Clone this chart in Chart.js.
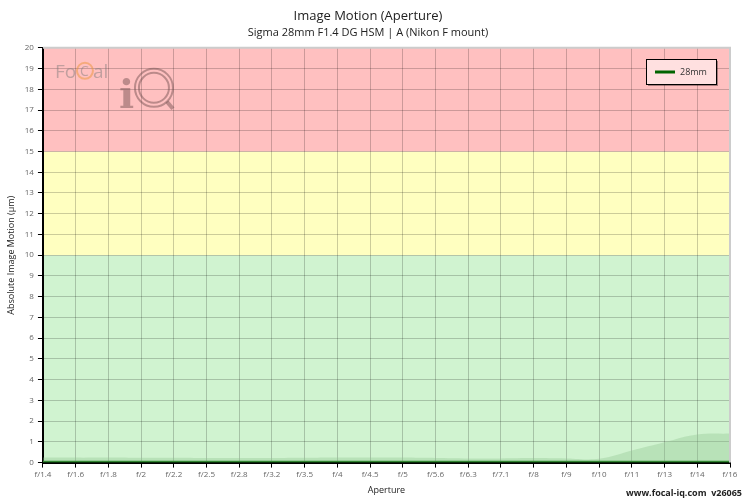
<!DOCTYPE html>
<html>
<head>
<meta charset="utf-8">
<script src="https://cdn.jsdelivr.net/npm/chart.js@4"></script>
<style>
  html, body { margin: 0; padding: 0; background: #fff; }
  #wrap { width: 750px; height: 500px; }
</style>
</head>
<body>
<div id="wrap"><canvas id="chart" width="750" height="500"></canvas></div>
<script>
// ── data ──
const apertures = ['f/1.4','f/1.6','f/1.8','f/2','f/2.2','f/2.5','f/2.8','f/3.2','f/3.5','f/4','f/4.5',
                   'f/5','f/5.6','f/6.3','f/7.1','f/8','f/9','f/10','f/11','f/13','f/14','f/16'];
const motion28 = [0.04,0.04,0.04,0.04,0.04,0.04,0.04,0.04,0.04,0.04,0.04,
                  0.04,0.04,0.04,0.04,0.04,0.04,0.04,0.04,0.04,0.04,0.04];
const band28   = [0.25,0.24,0.24,0.23,0.23,0.22,0.22,0.22,0.23,0.24,0.25,
                  0.24,0.22,0.2,0.2,0.22,0.2,0.18,0.58,0.98,1.35,1.4];
const zones = [
  { from: 0,  to: 10, color: '#d0f3d0' },
  { from: 10, to: 15, color: '#ffffc0' },
  { from: 15, to: 20, color: '#ffc0c0' },
];

Chart.defaults.font.family = "'Open Sans', sans-serif";
Chart.defaults.color = '#555';

const zonePlugin = {
  id: 'zones',
  beforeDraw(chart) {
    const { ctx, chartArea: a, scales: { y } } = chart;
    ctx.save();
    zones.forEach(z => {
      const top = y.getPixelForValue(z.to), bot = y.getPixelForValue(z.from);
      ctx.fillStyle = z.color;
      ctx.fillRect(a.left, top, a.right - a.left, bot - top);
    });
    ctx.restore();
  }
};

const decoPlugin = {
  id: 'deco',
  beforeDatasetsDraw(chart) {
    // watermark logo
    const { ctx, chartArea: a } = chart;
    ctx.save();
    ctx.globalAlpha = 0.45;
    ctx.fillStyle = '#777';
    ctx.font = "19px 'Open Sans', sans-serif";
    ctx.fillText('Fo', a.left + 12, a.top + 30);
    ctx.fillText('al', a.left + 50, a.top + 30);
    ctx.font = "14px 'Open Sans', sans-serif";
    ctx.fillText('C', a.left + 37, a.top + 28);
    ctx.strokeStyle = '#e8902a';
    ctx.lineWidth = 2;
    ctx.beginPath(); ctx.arc(a.left + 42, a.top + 23, 8, 0, Math.PI * 2); ctx.stroke();
    ctx.fillStyle = '#6a4a4a';
    ctx.font = "bold 40px 'DejaVu Serif', serif";
    ctx.fillText('i', a.left + 76, a.top + 60);
    ctx.strokeStyle = '#6a4a4a';
    ctx.lineWidth = 2;
    ctx.beginPath(); ctx.arc(a.left + 111, a.top + 40, 19, 0, Math.PI * 2); ctx.stroke();
    ctx.beginPath(); ctx.arc(a.left + 111, a.top + 40, 15, 0, Math.PI * 2); ctx.stroke();
    ctx.lineWidth = 4;
    ctx.beginPath(); ctx.moveTo(a.left + 124, a.top + 54); ctx.lineTo(a.left + 130, a.top + 61); ctx.stroke();
    ctx.restore();
  },
  afterDraw(chart) {
    const { ctx, chartArea: a } = chart;
    ctx.save();
    // light frame top / right
    ctx.strokeStyle = '#ccc';
    ctx.lineWidth = 2;
    ctx.beginPath();
    ctx.moveTo(a.left, a.top); ctx.lineTo(a.right, a.top); ctx.lineTo(a.right, a.bottom);
    ctx.stroke();
    // legend box
    const lx = 646, ly = 59, lw = 70, lh = 25;
    ctx.fillStyle = 'rgba(0,0,0,0.35)';
    ctx.fillRect(lx + 2, ly + 2, lw, lh);
    ctx.fillStyle = '#ffe0e0';
    ctx.fillRect(lx, ly, lw, lh);
    ctx.strokeStyle = '#000';
    ctx.lineWidth = 1;
    ctx.strokeRect(lx + 0.5, ly + 0.5, lw, lh);
    ctx.strokeStyle = '#006400';
    ctx.lineWidth = 3;
    ctx.beginPath(); ctx.moveTo(lx + 9, ly + 13); ctx.lineTo(lx + 29, ly + 13); ctx.stroke();
    ctx.fillStyle = '#333';
    ctx.font = "9px 'Open Sans', sans-serif";
    ctx.textBaseline = 'middle';
    ctx.fillText('28mm', lx + 34, ly + 13);
    // footer
    ctx.fillStyle = '#222';
    ctx.font = "bold 9px 'Open Sans', sans-serif";
    ctx.textAlign = 'right';
    ctx.textBaseline = 'alphabetic';
    ctx.fillText('www.focal-iq.com  v26065', 742, 496);
    ctx.restore();
  }
};

new Chart(document.getElementById('chart'), {
  type: 'line',
  data: {
    labels: apertures,
    datasets: [
      {
        label: '28mm range',
        data: band28,
        borderWidth: 0,
        borderColor: 'rgba(0,0,0,0)',
        backgroundColor: 'rgba(140,195,140,0.35)',
        fill: 'origin',
        pointRadius: 0,
        tension: 0.4,
      },
      {
        label: '28mm',
        data: motion28,
        borderColor: '#006400',
        borderWidth: 2,
        fill: false,
        pointRadius: 0,
        tension: 0.4,
      }
    ]
  },
  options: {
    responsive: false,
    animation: false,
    layout: { padding: { left: 6, right: 20, top: 0, bottom: 4 } },
    plugins: {
      legend: { display: false },
      tooltip: { enabled: false },
      title: {
        display: true,
        text: 'Image Motion (Aperture)',
        color: '#222',
        font: { size: 13, weight: 'normal' },
        padding: { top: 8, bottom: 3 },
      },
      subtitle: {
        display: true,
        text: 'Sigma 28mm F1.4 DG HSM | A (Nikon F mount)',
        color: '#222',
        font: { size: 11 },
        padding: { top: 0, bottom: 8 },
      },
    },
    scales: {
      x: {
        offset: false,
        title: { display: true, text: 'Aperture', color: '#222', font: { size: 9 }, padding: { top: 4, bottom: 0 } },
        ticks: { color: '#666', font: { size: 8 }, maxRotation: 0, autoSkip: false, padding: 2 },
        grid: { color: 'rgba(0,0,0,0.2)', tickColor: '#000', tickLength: 5 },
        border: { color: '#000', width: 2 },
      },
      y: {
        min: 0, max: 20,
        title: { display: true, text: 'Absolute Image Motion (µm)', color: '#222', font: { size: 9 }, padding: { top: 0, bottom: 4 } },
        ticks: { stepSize: 1, color: '#666', font: { size: 8 }, padding: 4 },
        grid: { color: 'rgba(0,0,0,0.2)', tickColor: '#000', tickLength: 5 },
        border: { color: '#000', width: 2 },
      }
    }
  },
  plugins: [zonePlugin, decoPlugin]
});
</script>
</body>
</html>
